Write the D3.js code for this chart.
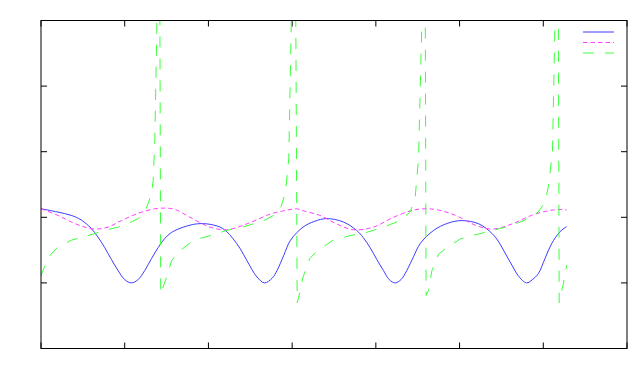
<!DOCTYPE html>
<html>
<head>
<meta charset="utf-8">
<script src="https://cdn.jsdelivr.net/npm/d3@7"></script>
<style>
  body { margin: 0; background: #fff; }
  svg { display: block; }
</style>
</head>
<body>
<svg id="chart" width="638" height="384"></svg>
<script>
// x ticks and y ticks (no labels in the picture)
var xTicks = [0, 1, 2, 3, 4, 5, 6, 7];
var yTicks = [-2, -1, 0, 1, 2, 3];

// series 1 (solid blue)
var blueX = [0.00, 0.20, 0.36, 0.48, 0.60, 0.68, 0.76, 0.84, 0.92, 1.00, 1.08, 1.16, 1.24, 1.32, 1.40, 1.48, 1.56, 1.70, 1.86, 1.98, 2.14, 2.22, 2.29, 2.38, 2.46, 2.58, 2.67, 2.76, 2.82, 2.90, 2.98, 3.13, 3.27, 3.41, 3.61, 3.77, 3.85, 3.93, 4.01, 4.09, 4.16, 4.23, 4.30, 4.37, 4.45, 4.53, 4.69, 4.86, 5.03, 5.23, 5.39, 5.47, 5.55, 5.63, 5.70, 5.80, 5.87, 5.94, 6.02, 6.10, 6.20, 6.28];
var blueY = [0.13, 0.08, 0.03, -0.04, -0.17, -0.30, -0.46, -0.64, -0.81, -0.95, -1.00, -0.95, -0.81, -0.63, -0.46, -0.32, -0.23, -0.15, -0.10, -0.10, -0.15, -0.22, -0.32, -0.48, -0.66, -0.91, -1.00, -0.93, -0.81, -0.58, -0.35, -0.15, -0.06, -0.02, -0.07, -0.20, -0.31, -0.46, -0.64, -0.81, -0.95, -1.00, -0.95, -0.81, -0.60, -0.40, -0.20, -0.09, -0.05, -0.10, -0.25, -0.38, -0.56, -0.74, -0.89, -1.00, -0.95, -0.86, -0.63, -0.40, -0.22, -0.14];

// series 2 (short dashed magenta)
var pinkX = [0.00, 0.20, 0.36, 0.50, 0.65, 0.80, 0.96, 1.16, 1.36, 1.48, 1.60, 1.78, 2.02, 2.22, 2.46, 2.74, 2.94, 3.05, 3.13, 3.33, 3.53, 3.73, 3.97, 4.21, 4.45, 4.60, 4.75, 4.95, 5.19, 5.39, 5.63, 5.86, 6.06, 6.20, 6.28];
var pinkY = [0.13, 0.03, -0.07, -0.14, -0.18, -0.15, -0.05, 0.06, 0.13, 0.14, 0.12, 0.00, -0.15, -0.19, -0.10, 0.05, 0.11, 0.13, 0.10, 0.03, -0.10, -0.19, -0.15, 0.00, 0.11, 0.13, 0.11, 0.03, -0.12, -0.18, -0.10, 0.03, 0.10, 0.12, 0.11];

// series 3 (long dashed green), blows up near each pole
var greenX = [0.00, 0.04, 0.12, 0.20, 0.36, 0.56, 0.76, 0.92, 1.08, 1.16, 1.24, 1.28, 1.32, 1.34, 1.36, 1.385, 1.40, 1.43,
              1.50, 1.56, 1.66, 1.82, 2.02, 2.22, 2.46, 2.66, 2.78, 2.86, 2.92, 2.96, 2.99, 3.01, 3.06,
              3.10, 3.13, 3.16, 3.21, 3.30, 3.49, 3.69, 3.89, 4.09, 4.29, 4.41, 4.47, 4.51, 4.55, 4.57, 4.60,
              4.63, 4.67, 4.75, 4.85, 5.01, 5.21, 5.43, 5.63, 5.82, 5.94, 6.02, 6.06, 6.11, 6.14, 6.16, 6.19,
              6.24, 6.28];
var greenY = [-0.89, -0.76, -0.56, -0.46, -0.35, -0.28, -0.20, -0.15, -0.07, -0.02, 0.08, 0.21, 0.36, 0.56, 1.2, 3.0, 12, -1.17,
              -0.91, -0.66, -0.51, -0.35, -0.28, -0.20, -0.13, -0.05, 0.03, 0.13, 0.38, 0.9, 3.0, 12, -1.30,
              -1.11, -0.91, -0.81, -0.63, -0.51, -0.35, -0.28, -0.23, -0.15, -0.05, 0.08, 0.31, 0.9, 3.0, 12, -1.19,
              -1.11, -0.81, -0.56, -0.46, -0.33, -0.26, -0.19, -0.12, -0.02, 0.08, 0.23, 0.46, 1.0, 3.0, 12, -1.30,
              -1.01, -0.73];

var series = [
    {xs: blueX, ys: blueY, color: "#3c3cff", dash: null, curve: d3.curveCatmullRom},
    {xs: pinkX, ys: pinkY, color: "#ff40ff", dash: "4.5,3", curve: d3.curveCatmullRom},
    {xs: greenX, ys: greenY, color: "#3cff3c", dash: "11,11", curve: d3.curveLinear}
];

var svg = d3.select("#chart");
// plot box (window.top is reserved, so no "top" here)
var plotL = 41, plotR = 627, plotT = 20.5, plotB = 348.5;

var x = d3.scaleLinear().domain([0, 7]).range([plotL, plotR]);
var y = d3.scaleLinear().domain([-2, 3]).range([plotB, plotT]);

svg.append("rect").attr("width", 638).attr("height", 384).attr("fill", "#fff");

svg.append("clipPath").attr("id", "plotclip")
    .append("rect")
    .attr("x", plotL).attr("y", plotT)
    .attr("width", plotR - plotL).attr("height", plotB - plotT);

var tickLen = 6;
var ticks = svg.append("g").attr("stroke", "#000").attr("stroke-width", 1);

// x ticks bottom and top
xTicks.forEach(function(t) {
    ticks.append("line").attr("x1", x(t)).attr("x2", x(t)).attr("y1", plotB).attr("y2", plotB - tickLen);
    ticks.append("line").attr("x1", x(t)).attr("x2", x(t)).attr("y1", plotT).attr("y2", plotT + tickLen);
});
// y ticks left and right
yTicks.forEach(function(t) {
    ticks.append("line").attr("x1", plotL).attr("x2", plotL + tickLen).attr("y1", y(t)).attr("y2", y(t));
    ticks.append("line").attr("x1", plotR).attr("x2", plotR - tickLen).attr("y1", y(t)).attr("y2", y(t));
});

var plot = svg.append("g").attr("clip-path", "url(#plotclip)");

series.forEach(function(s) {
    var pts = s.xs.map(function(v, i) { return [v, s.ys[i]]; });
    var line = d3.line()
        .x(function(d) { return x(d[0]); })
        .y(function(d) { return y(d[1]); })
        .curve(s.curve);
    plot.append("path")
        .datum(pts)
        .attr("d", line)
        .attr("fill", "none")
        .attr("stroke", s.color)
        .attr("stroke-width", 1)
        .attr("stroke-dasharray", s.dash);
});

// border
svg.append("rect")
    .attr("x", plotL).attr("y", plotT)
    .attr("width", plotR - plotL).attr("height", plotB - plotT)
    .attr("fill", "none")
    .attr("stroke", "#000")
    .attr("stroke-width", 1);

// key, samples only (titles are blank)
var key = svg.append("g");
series.forEach(function(s, i) {
    key.append("line")
        .attr("x1", plotR - 44).attr("x2", plotR - 13)
        .attr("y1", plotT + 11.5 + i * 10.5).attr("y2", plotT + 11.5 + i * 10.5)
        .attr("stroke", s.color)
        .attr("stroke-width", 1)
        .attr("stroke-dasharray", s.dash);
});
</script>
</body>
</html>
